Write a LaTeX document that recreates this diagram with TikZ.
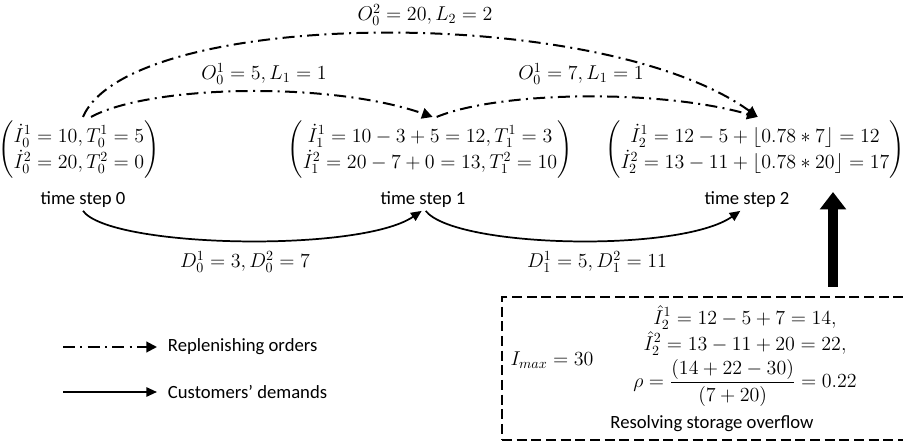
\RequirePackage{fix-cm}
\documentclass[tikz,border=0pt]{standalone}
\usepackage{amsmath}
\usepackage[no-math]{fontspec}
\setmainfont{Carlito}
\usetikzlibrary{arrows.meta, positioning, calc}

\begin{document}
\begin{tikzpicture}[
        x=0.75pt, y=0.75pt,
        font=\fontsize{14}{17}\selectfont,
        state/.style={inner sep=3pt, align=center, font=\fontsize{15}{18}\selectfont},
        eq/.style={font=\fontsize{15}{18}\selectfont},
        steplabel/.style={inner sep=2pt},
        order/.style={line width=1.5pt, dash pattern=on 9pt off 4pt on 1.5pt off 4pt, -{Triangle[length=8pt, width=8pt]}},
        demand/.style={line width=1.3pt, -{Triangle[length=8pt, width=7pt]}},
        overflow/.style={draw, line width=2pt, dash pattern=on 7.5pt off 3.5pt, minimum width=306pt, minimum height=107pt}
    ]
    \useasboundingbox (0,0) rectangle (903,443);

    \node[state] (t0) at (79,293) {$\begin{pmatrix} \dot{I}_0^1 = 10, T_0^1 = 5 \\[1pt] \dot{I}_0^2 = 20, T_0^2 = 0 \end{pmatrix}$};
    \node[state] (t1) at (430,293) {$\begin{pmatrix} \dot{I}_1^1 = 10-3+5 = 12, T_1^1 = 3 \\[1pt] \dot{I}_1^2 = 20-7+0 = 13, T_1^2 = 10 \end{pmatrix}$};
    \node[state] (t2) at (755,293) {$\begin{pmatrix} \dot{I}_2^1 = 12-5+\lfloor 0.78\ast 7\rfloor = 12 \\[1pt] \dot{I}_2^2 = 13-11+\lfloor 0.78\ast 20\rfloor = 17 \end{pmatrix}$};

    \node[steplabel] (ts0) at (83,243) {time step 0};
    \node[steplabel] (ts1) at (423,243) {time step 1};
    \node[steplabel] (ts2) at (747,243) {time step 2};

    \node[eq] (o02) at (425,428) {$O_0^2 = 20, L_2 = 2$};
    \node[eq] (o01a) at (264,369) {$O_0^1 = 5, L_1 = 1$};
    \node[eq] (o01b) at (581,369) {$O_0^1 = 7, L_1 = 1$};

    \draw[order] ([xshift=3pt]t0.north) .. controls (130,435) and (600,440) .. ([xshift=2pt]t2.north);
    \draw[order] ([xshift=9pt]t0.north) .. controls (150,358) and (330,362) .. ([xshift=2pt]t1.north);
    \draw[order] ([xshift=5pt]t1.north) .. controls (500,352) and (660,354) .. ([xshift=2pt]t2.north);

    \node[eq] (d0) at (245,181) {$D_0^1 = 3, D_0^2 = 7$};
    \node[eq] (d1) at (597,181) {$D_1^1 = 5, D_1^2 = 11$};

    \draw[demand] (ts0.south) .. controls (110,195) and (360,190) .. ([xshift=-1pt]ts1.south);
    \draw[demand] ([xshift=2pt]ts1.south) .. controls (455,195) and (680,190) .. ([xshift=-5pt]ts2.south);

    \node[overflow] (ovf) at (706,74.5) {};
    \node[eq] (imax) at (552,83) {$I_{max} = 30$};
    \node[eq] (rho) at (745,87) {$\begin{gathered} \hat{I}_2^1 = 12-5+7 = 14,\\[-4pt] \hat{I}_2^2 = 13-11+20 = 22,\\[-3pt] \rho = \dfrac{(14+22-30)}{(7+20)} = 0.22 \end{gathered}$};
    \node (resolve) at (712,19) {Resolving storage overflow};

    \coordinate (barbot) at (833,156);
    \coordinate (bartop) at (833,251);
    \draw[line width=7pt, -{Triangle[length=13pt, width=19pt]}] (barbot) -- (bartop);

    \coordinate (lgoa) at (63,96);
    \coordinate (lgob) at (157,96);
    \coordinate (lgda) at (63,51);
    \coordinate (lgdb) at (157,51);
    \draw[order] (lgoa) -- (lgob);
    \draw[demand] (lgda) -- (lgdb);
    \node[right=6pt of lgob, inner sep=2pt] (lgorder) {Replenishing orders};
    \node[right=6pt of lgdb, inner sep=2pt] (lgdemand) {Customers’ demands};
\end{tikzpicture}
\end{document}
